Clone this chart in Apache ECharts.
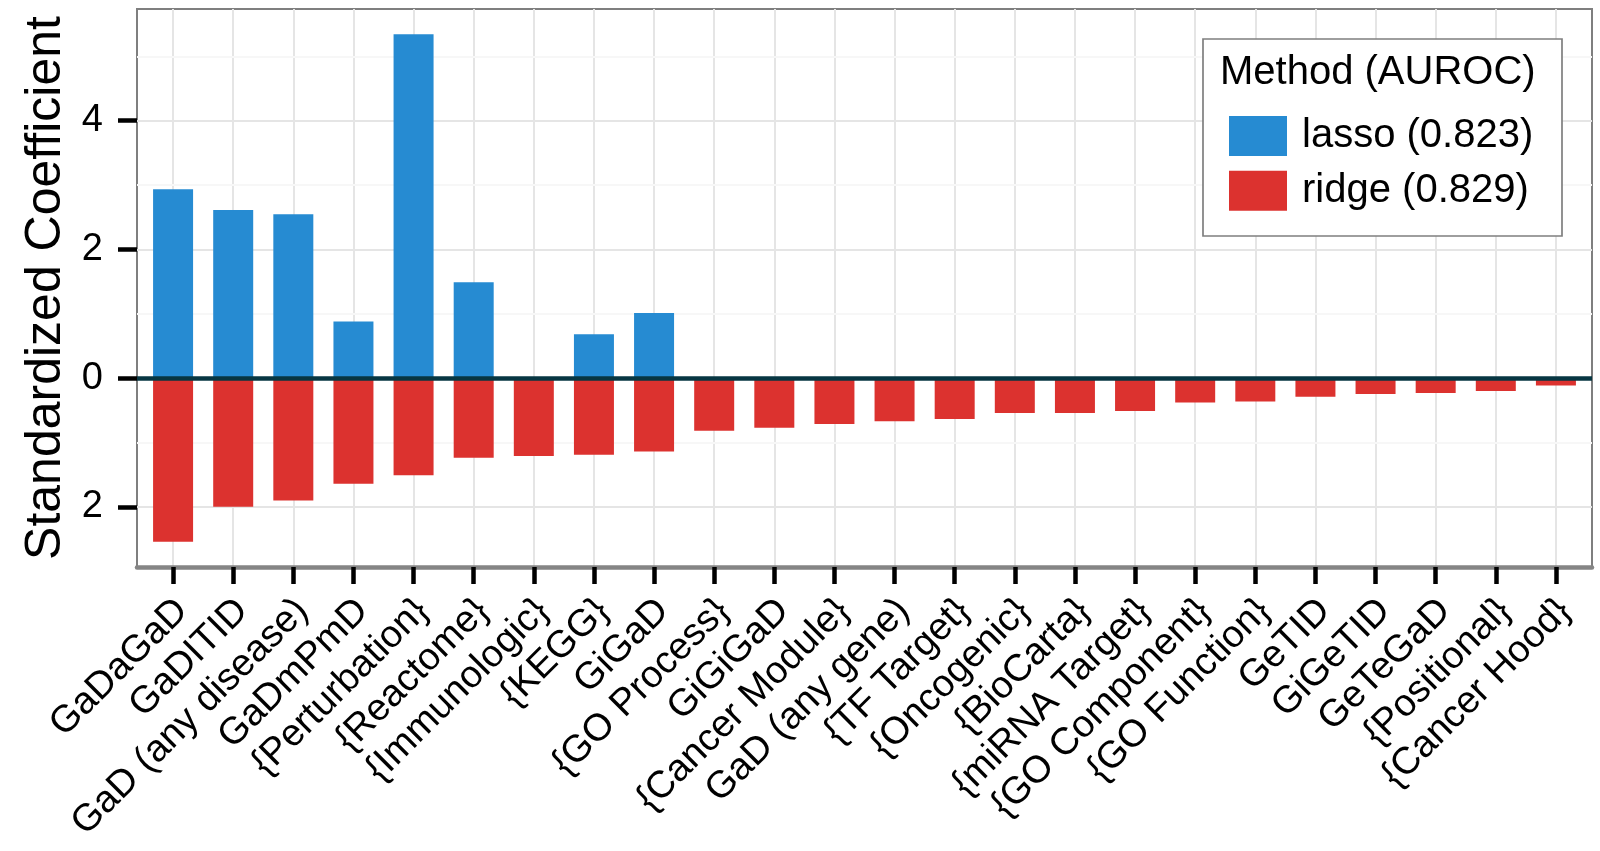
<!DOCTYPE html>
<html><head><meta charset="utf-8">
<script src="https://cdn.jsdelivr.net/npm/echarts@6/dist/echarts.min.js"></script>
<style>html,body{margin:0;padding:0;background:#fff}#c{width:1600px;height:851px}</style>
</head><body><div id="c"></div>
<script>
const categories = ['GaDaGaD','GaDITID','GaD (any disease)','GaDmPmD','{Perturbation}','{Reactome}','{Immunologic}','{KEGG}','GiGaD','{GO Process}','GiGiGaD','{Cancer Module}','GaD (any gene)','{TF Target}','{Oncogenic}','{BioCarta}','{miRNA Target}','{GO Component}','{GO Function}','GeTID','GiGeTID','GeTeGaD','{Positional}','{Cancer Hood}'];
const lassoValues = [2.935, 2.61, 2.545, 0.88, 5.34, 1.49, null, 0.68, 1.01, null, null, null, null, null, null, null, null, null, null, null, null, null, null, null];
const ridgeValues = [-2.54, -2.00, -1.90, -1.64, -1.51, -1.235, -1.21, -1.19, -1.14, -0.817, -0.77, -0.713, -0.67, -0.635, -0.54, -0.54, -0.51, -0.377, -0.362, -0.289, -0.248, -0.233, -0.20, -0.114];
const yTickValues = [-2, 0, 2, 4];
const yMinorValues = [-1, 1, 3, 5];
const seriesNames = ['lasso (0.823)', 'ridge (0.829)'];
const legendTitle = 'Method (AUROC)';
const yAxisTitle = 'Standardized Coefficient';

const FONT = 'Liberation Sans';
const allVals = lassoValues.concat(ridgeValues).filter(v => v !== null);
const lo = Math.min.apply(null, allVals), hi = Math.max.apply(null, allVals);
const pad = (hi - lo) * 0.05;
const xIdx = categories.map((c, i) => i);
const xMin = -0.6, xMax = categories.length - 1 + 0.6;
// label axis nudged right by ~9px (hjust-style anchoring of rotated labels)
const gridLeft = 137, gridRight = 8;
const labelShift = 9 / ((1600 - gridLeft - gridRight) / (xMax - xMin));

const chart = echarts.init(document.getElementById('c'), null, {renderer: 'canvas'});
chart.setOption({
  animation: false,
  backgroundColor: '#fff',
  grid: {left: gridLeft, right: gridRight, top: 9, bottom: 284, containLabel: false, outerBoundsMode: 'none',
    show: true, borderColor: '#7f7f7f', borderWidth: 2, backgroundColor: 'transparent'},
  xAxis: [{
    type: 'value', position: 'bottom', min: xMin, max: xMax,
    axisLine: {show: true, onZero: false, lineStyle: {color: '#858585', width: 4.5}},
    axisTick: {show: true, length: 17, customValues: xIdx, lineStyle: {color: '#000', width: 4.5}},
    axisLabel: {show: false},
    splitLine: {show: true, lineStyle: {color: '#e5e5e5', width: 2}}
  }, {
    type: 'value', position: 'bottom', min: xMin - labelShift, max: xMax - labelShift,
    axisLine: {show: false, onZero: false},
    axisTick: {show: false, customValues: xIdx},
    splitLine: {show: false},
    axisLabel: {customValues: xIdx, rotate: 45, margin: 38, align: 'right', verticalAlign: 'middle',
      fontSize: 38, fontFamily: FONT, color: '#000',
      formatter: v => categories[Math.round(v)]}
  }],
  yAxis: {
    type: 'value', min: lo - pad, max: hi + pad,
    name: yAxisTitle, nameLocation: 'middle', nameRotate: 90, nameGap: 54,
    nameTextStyle: {fontSize: 50, fontFamily: FONT, color: '#000'},
    axisLine: {show: false, onZero: false},
    axisTick: {show: true, length: 19, customValues: yTickValues, lineStyle: {color: '#000', width: 4.5}},
    axisLabel: {customValues: yTickValues, margin: 34, fontSize: 38, fontFamily: FONT, color: '#000',
      formatter: v => String(Math.abs(v))},
    splitLine: {show: true, lineStyle: {color: '#e5e5e5', width: 2}}
  },
  legend: {
    orient: 'vertical', left: 1229, top: 116, padding: 0, itemWidth: 58, itemHeight: 40, itemGap: 14.7,
    icon: 'rect', z: 12, selectedMode: false,
    textStyle: {fontSize: 40, fontFamily: FONT, color: '#000', padding: [0, 0, 0, 10]},
    data: seriesNames
  },
  graphic: [
    {type: 'rect', z: 11, shape: {x: 1203, y: 39, width: 359, height: 197},
      style: {fill: '#fff', stroke: '#7f7f7f', lineWidth: 1.7}},
    {type: 'text', z: 12, x: 1220, y: 72.5,
      style: {text: legendTitle, fontSize: 40, fontFamily: FONT, fill: '#000', textVerticalAlign: 'middle', textAlign: 'left'}}
  ],
  series: [
    {name: seriesNames[0], type: 'bar', xAxisIndex: 0, barWidth: 40, barGap: '-100%',
      itemStyle: {color: '#268bd2'},
      data: lassoValues.map((v, i) => [i, v]).filter(d => d[1] !== null),
      markLine: {silent: true, symbol: 'none', z: 1, label: {show: false},
        lineStyle: {color: '#f7f7f7', width: 2, type: 'solid'},
        data: yMinorValues.map(v => ({yAxis: v}))}
    },
    {name: seriesNames[1], type: 'bar', xAxisIndex: 0, barWidth: 40, barGap: '-100%',
      itemStyle: {color: '#dc322f'},
      data: ridgeValues.map((v, i) => [i, v]),
      markLine: {silent: true, symbol: 'none', z: 6, label: {show: false},
        lineStyle: {color: '#073642', width: 4.5, type: 'solid'},
        data: [{yAxis: 0}]}
    }
  ]
});
</script></body></html>
